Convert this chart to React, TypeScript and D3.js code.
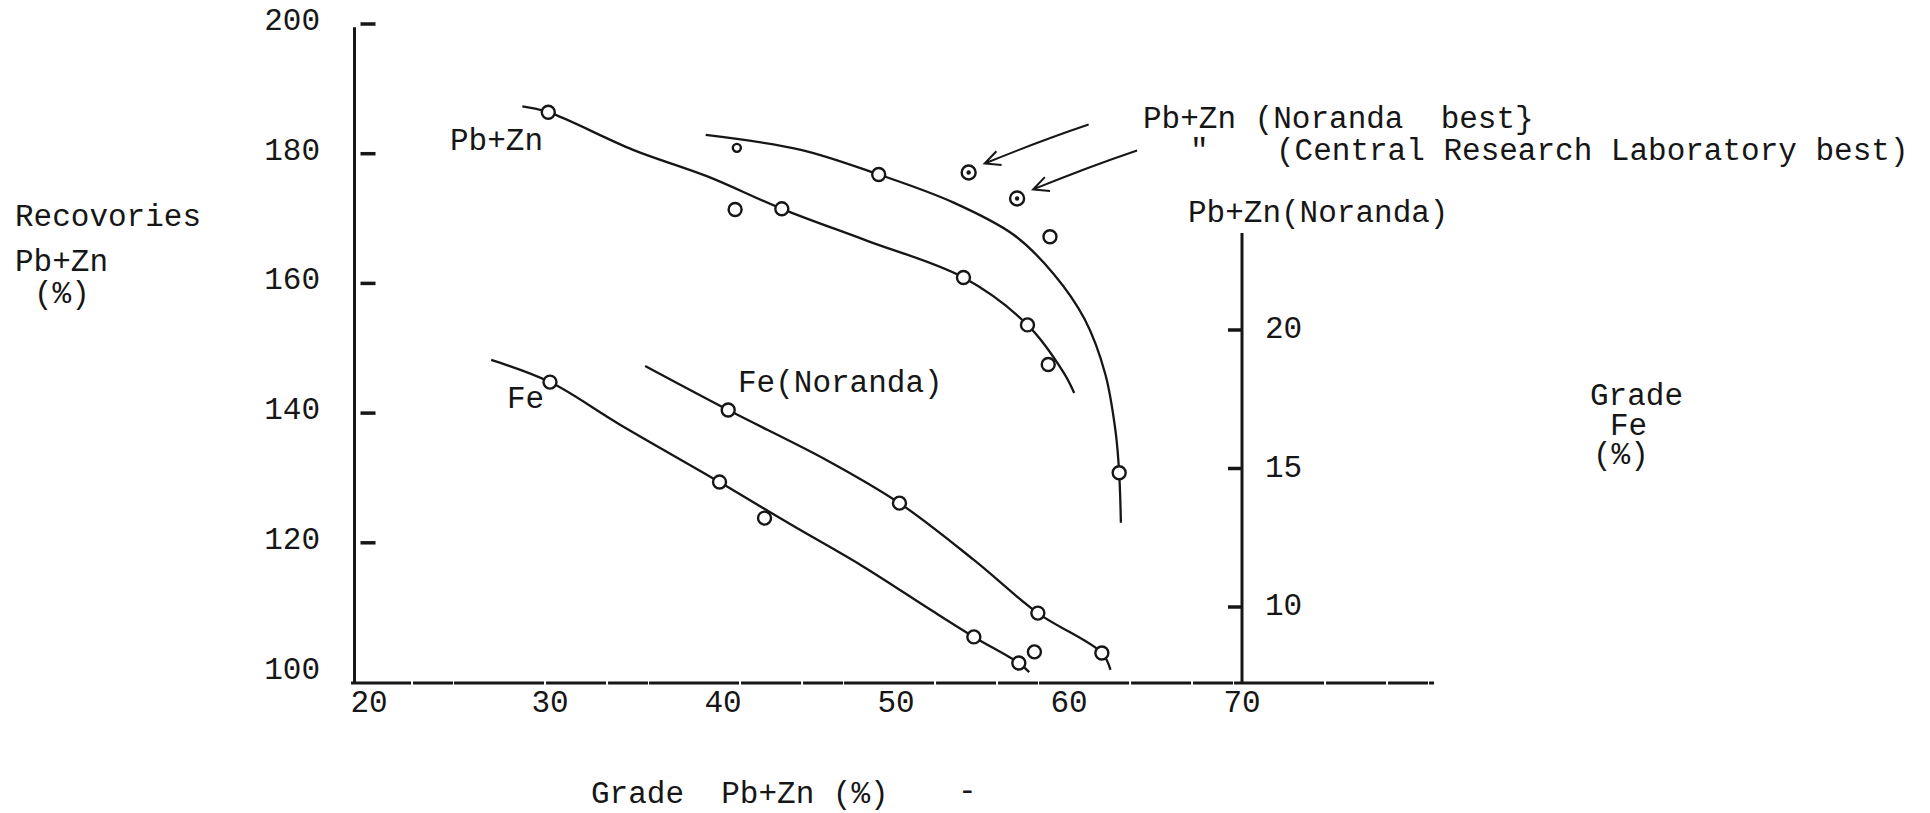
import { useEffect, useRef } from 'react';
import * as d3 from 'd3';

type Pt = [number, number];

// Pb+Zn recovery (%) against Pb+Zn grade (%), left axis
const pbznPoints: Pt[] = [[29.9, 186.4], [43.4, 171.5], [53.9, 160.9], [57.6, 153.6], [58.8, 147.5]];
const pbznStray: Pt[] = [[40.7, 171.4]];
const pbznCurve: Pt[] = [[28.4, 187.3], [29.9, 186.4], [34.8, 180.6], [39.1, 176.5], [43.4, 171.5], [48.3, 166.6], [53.9, 160.9], [57.6, 153.6], [59.7, 146.2], [60.3, 143.1]];

const norandaPoints: Pt[] = [[49.0, 176.8], [62.9, 130.8]];
const norandaSmall: Pt[] = [[40.8, 180.9]];
const norandaStray: Pt[] = [[58.9, 167.2]];
const norandaCurve: Pt[] = [[39.0, 182.9], [44.5, 180.6], [49.0, 176.8], [53.3, 172.5], [56.8, 167.5], [59.1, 161.5], [60.9, 154.5], [62.1, 146.0], [62.7, 137.0], [62.9, 130.8], [63.0, 123.1]];

// Noranda best, Central Research Laboratory best
const bestPoints: Pt[] = [[54.2, 177.1], [57.0, 173.1]];

// Fe grade (%) against Pb+Zn grade (%), right axis
const fePoints: Pt[] = [[30.0, 18.12], [39.8, 14.51], [42.4, 13.21], [54.5, 8.92], [57.1, 7.98]];
const feCurve: Pt[] = [[26.6, 18.92], [30.0, 18.12], [34.0, 16.6], [39.8, 14.51], [44.0, 12.95], [48.0, 11.5], [52.0, 9.9], [54.5, 8.92], [57.1, 7.98], [57.7, 7.65]];

const feNorPoints: Pt[] = [[40.3, 17.11], [50.2, 13.75], [58.2, 9.78], [61.9, 8.34]];
const feNorStray: Pt[] = [[58.0, 8.38]];
const feNorCurve: Pt[] = [[35.5, 18.70], [40.3, 17.11], [46.0, 15.3], [50.2, 13.75], [54.5, 11.7], [58.2, 9.78], [61.9, 8.34], [62.4, 7.73]];

const xTicks = [20, 30, 40, 50, 60, 70];
const yLeftTicks = [100, 120, 140, 160, 180, 200];
const yRightTicks = [10, 15, 20];

export default function App() {
    const svgRef = useRef<SVGSVGElement>(null);

    useEffect(() => {
        if (!svgRef.current) return;

        const width = 1930;
        const height = 813;
        const ink = '#161616';
        const font = '"Liberation Mono", "DejaVu Sans Mono", monospace';

        const svg = d3.select(svgRef.current);
        svg.selectAll('*').remove();
        svg.attr('width', width).attr('height', height).attr('viewBox', `0 0 ${width} ${height}`);
        svg.append('rect').attr('width', width).attr('height', height).attr('fill', '#fff');

        const x = d3.scaleLinear().domain([30, 70]).range([550, 1242]);
        const yL = d3.scaleLinear().domain([100, 200]).range([672.5, 24]);
        const yR = d3.scaleLinear().domain([10, 20]).range([607, 330]);

        const text = (t: string, px: number, py: number, anchor = 'start') =>
            svg.append('text')
                .attr('x', px)
                .attr('y', py)
                .attr('text-anchor', anchor)
                .attr('font-family', font)
                .attr('font-size', 31)
                .attr('fill', ink)
                .style('white-space', 'pre')
                .text(t);

        // Axes
        const leftX = x(18.7);
        const baseY = yL(98.4);
        svg.append('line')
            .attr('x1', leftX).attr('x2', leftX)
            .attr('y1', yL(199.5)).attr('y2', baseY + 1)
            .attr('stroke', ink).attr('stroke-width', 3);
        svg.append('line')
            .attr('x1', x(18.5)).attr('x2', x(81.1))
            .attr('y1', baseY).attr('y2', baseY)
            .attr('stroke', ink).attr('stroke-width', 3).attr('stroke-dasharray', '60 2 40 1 90 2');
        svg.append('line')
            .attr('x1', x(70)).attr('x2', x(70))
            .attr('y1', yR(23.5)).attr('y2', baseY)
            .attr('stroke', ink).attr('stroke-width', 3);

        // Left ticks
        svg.selectAll('.ltick')
            .data(yLeftTicks.filter(d => d > 100))
            .enter()
            .append('line')
            .attr('x1', leftX + 6).attr('x2', leftX + 21)
            .attr('y1', d => yL(d)).attr('y2', d => yL(d))
            .attr('stroke', ink).attr('stroke-width', 3.5);
        yLeftTicks.forEach(d => text(String(d), 320, yL(d) + 6, 'end'));

        // Right ticks
        svg.selectAll('.rtick')
            .data(yRightTicks)
            .enter()
            .append('line')
            .attr('x1', x(70) - 14).attr('x2', x(70))
            .attr('y1', d => yR(d)).attr('y2', d => yR(d))
            .attr('stroke', ink).attr('stroke-width', 3.5);
        yRightTicks.forEach(d => text(String(d), x(70) + 23, yR(d) + 8));

        // the typed "20" sits a little left of its place
        xTicks.forEach(d => text(String(d), x(d) - (d === 20 ? 8 : 0), 712, 'middle'));

        // Curves
        const lineL = d3.line<Pt>().x(d => x(d[0])).y(d => yL(d[1])).curve(d3.curveCatmullRom.alpha(0.5));
        const lineR = d3.line<Pt>().x(d => x(d[0])).y(d => yR(d[1])).curve(d3.curveCatmullRom.alpha(0.5));

        [pbznCurve, norandaCurve].forEach(c =>
            svg.append('path').attr('d', lineL(c)).attr('fill', 'none').attr('stroke', ink).attr('stroke-width', 2.3));
        [feCurve, feNorCurve].forEach(c =>
            svg.append('path').attr('d', lineR(c)).attr('fill', 'none').attr('stroke', ink).attr('stroke-width', 2.3));

        // Markers
        const circles = (data: Pt[], y: d3.ScaleLinear<number, number>, r: number) =>
            svg.append('g')
                .selectAll('circle')
                .data(data)
                .enter()
                .append('circle')
                .attr('cx', d => x(d[0]))
                .attr('cy', d => y(d[1]))
                .attr('r', r)
                .attr('fill', '#fff')
                .attr('stroke', ink)
                .attr('stroke-width', 2.4);

        circles([...pbznPoints, ...pbznStray, ...norandaPoints, ...norandaStray], yL, 6.5);
        circles(norandaSmall, yL, 4);
        circles(bestPoints, yL, 7);
        svg.append('g')
            .selectAll('circle')
            .data(bestPoints)
            .enter()
            .append('circle')
            .attr('cx', d => x(d[0]))
            .attr('cy', d => yL(d[1]))
            .attr('r', 2.2)
            .attr('fill', ink);
        circles([...fePoints, ...feNorPoints, ...feNorStray], yR, 6.5);

        // Arrows pointing at the best results
        bestPoints.forEach(d => {
            const hx = x(d[0]) + 16;
            const hy = yL(d[1]) - 9;
            const tx = hx + 104;
            const ty = hy - 39;
            const a = Math.atan2(ty - hy, tx - hx);
            const len = 17;
            const spread = 0.45;
            svg.append('path')
                .attr('d', `M${tx},${ty}Q${(tx + hx) / 2 + 3},${(ty + hy) / 2 - 3} ${hx},${hy}` +
                    `M${hx + len * Math.cos(a - spread)},${hy + len * Math.sin(a - spread)}L${hx},${hy}` +
                    `L${hx + len * Math.cos(a + spread)},${hy + len * Math.sin(a + spread)}`)
                .attr('fill', 'none')
                .attr('stroke', ink)
                .attr('stroke-width', 2);
        });

        // Labels
        text('Recovories', 15, 226);
        text('Pb+Zn', 15, 271);
        text('(%)', 34, 303);

        text('Pb+Zn', 450, 150);
        text('Pb+Zn (Noranda  best}', 1143, 128);
        text('"', 1190, 160);
        text('(Central Research Laboratory best)', 1276, 160);
        text('Pb+Zn(Noranda)', 1188, 222);

        text('Fe', 507, 408);
        text('Fe(Noranda)', 738, 392);

        text('Grade', 1590, 405);
        text('Fe', 1610, 435);
        text('(%)', 1593, 464);

        text('Grade  Pb+Zn (%)', 591, 803);
        text('-', 958, 800);
    }, []);

    return (
        <div style={{ position: 'absolute', left: 0, top: 0, background: '#fff' }}>
            <svg ref={svgRef} style={{ display: 'block' }} />
        </div>
    );
}
